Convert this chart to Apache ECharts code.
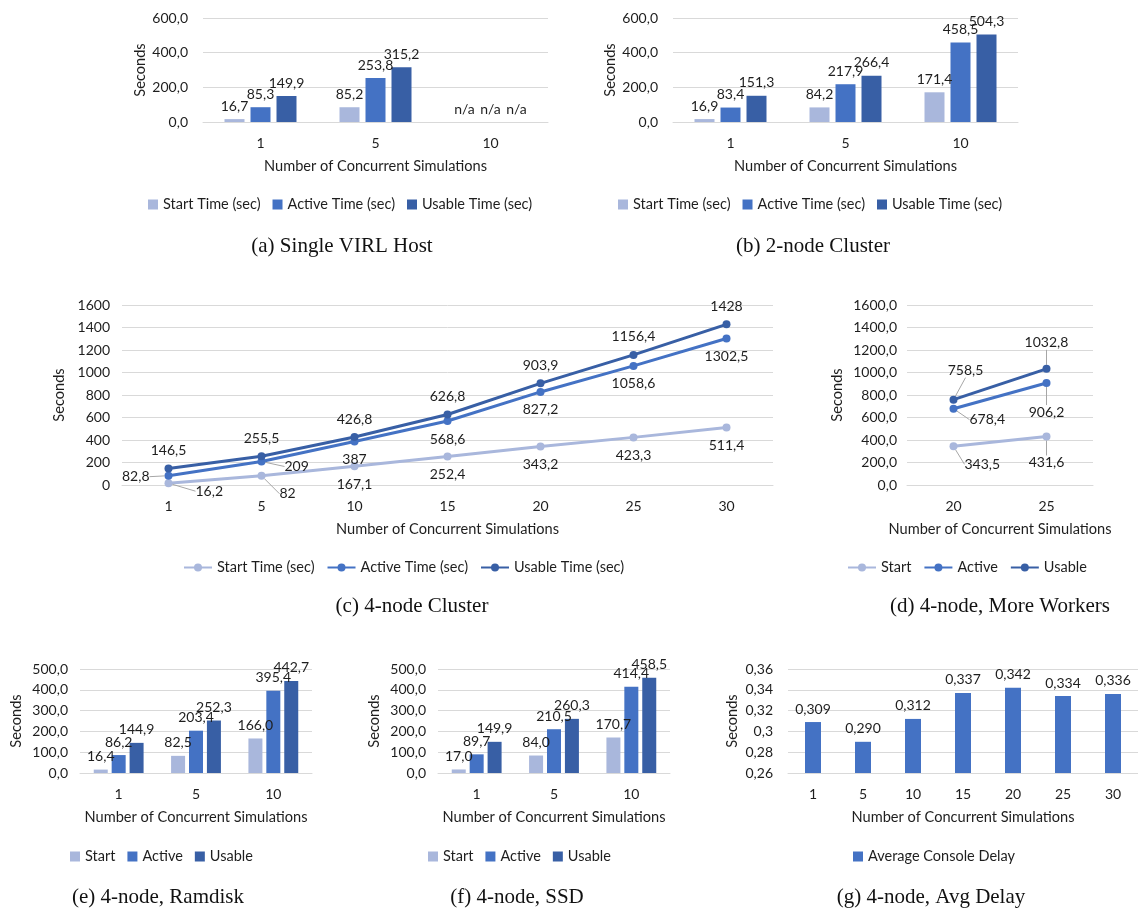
<!DOCTYPE html>
<html>
<head>
<meta charset="utf-8">
<script src="https://cdn.jsdelivr.net/npm/echarts@6/dist/echarts.min.js"></script>
<style>
  body { margin: 0; background: #fff; }
  .panel { position: absolute; left: 0; top: 0; width: 1138px; height: 912px; }
</style>
</head>
<body>
<div id="a" class="panel"></div>
<div id="b" class="panel"></div>
<div id="c" class="panel"></div>
<div id="d" class="panel"></div>
<div id="e" class="panel"></div>
<div id="f" class="panel"></div>
<div id="g" class="panel"></div>
<script>
var FONT = 'Lato, "Open Sans", sans-serif';
var SERIF = '"Liberation Serif", "DejaVu Serif", serif';
var TXT = '#1e1e1e';
var C_START = '#a9b7dc', C_ACTIVE = '#4472c4', C_USABLE = '#385fa5';

// categories
var barCats = ['1', '5', '10'];
var lineCats = ['1', '5', '10', '15', '20', '25', '30'];
var moreCats = ['20', '25'];
var delayCats = ['1', '5', '10', '15', '20', '25', '30'];

// (a) single VIRL host (null = n/a)
var aStart = [16.7, 85.2, null];
var aActive = [85.3, 253.8, null];
var aUsable = [149.9, 315.2, null];
// (b) 2-node cluster
var bStart = [16.9, 84.2, 171.4];
var bActive = [83.4, 217.9, 458.5];
var bUsable = [151.3, 266.4, 504.3];
// (c) 4-node cluster
var cStart = [16.2, 82, 167.1, 252.4, 343.2, 423.3, 511.4];
var cActive = [82.8, 209, 387, 568.6, 827.2, 1058.6, 1302.5];
var cUsable = [146.5, 255.5, 426.8, 626.8, 903.9, 1156.4, 1428];
// (d) more workers
var dStart = [343.5, 431.6];
var dActive = [678.4, 906.2];
var dUsable = [758.5, 1032.8];
// (e) ramdisk
var eStart = [16.4, 82.5, 166.0];
var eActive = [86.2, 203.4, 395.4];
var eUsable = [144.9, 252.3, 442.7];
// (f) ssd
var fStart = [17.0, 84.0, 170.7];
var fActive = [89.7, 210.5, 414.4];
var fUsable = [149.9, 260.3, 458.5];
// (g) avg console delay
var gDelay = [0.309, 0.290, 0.312, 0.337, 0.342, 0.334, 0.336];

function comma(v, d) {
  return (d == null ? String(v) : v.toFixed(d)).replace('.', ',');
}

function xAxisCfg(cats) {
  return {
    type: 'category', data: cats,
    name: 'Number of Concurrent Simulations', nameLocation: 'middle', nameGap: 37,
    nameTextStyle: { fontFamily: FONT, fontSize: 14.6, color: TXT },
    axisLabel: { fontFamily: FONT, fontSize: 14, color: TXT, margin: 14 },
    axisLine: { lineStyle: { color: '#d9d9d9' } },
    axisTick: { show: false }
  };
}

function yAxisCfg(min, max, step, fmt, gap, margin) {
  return {
    type: 'value', min: min, max: max, interval: step,
    name: 'Seconds', nameLocation: 'middle', nameGap: gap,
    nameTextStyle: { fontFamily: FONT, fontSize: 14.6, color: TXT },
    axisLabel: { formatter: fmt, fontFamily: FONT, fontSize: 14, color: TXT, margin: margin },
    axisLine: { show: false }, axisTick: { show: false },
    splitLine: { lineStyle: { color: '#d9d9d9' } }
  };
}

function barSeries(name, vals, color, w, gap, digits) {
  return {
    type: 'bar', name: name, barWidth: w, barGap: gap,
    itemStyle: { color: color },
    label: {
      show: true, position: 'top', distance: 6,
      fontFamily: FONT, fontSize: 14, color: TXT,
      formatter: function (p) { return comma(p.value, digits); }
    },
    data: vals.map(function (v) {
      return v === null ? { value: 0, label: { formatter: 'n/a' } } : v;
    })
  };
}

// place: [position, dx, dy, leader line]
function lineSeries(name, vals, color, fmt, place) {
  return {
    type: 'line', name: name, symbol: 'circle', symbolSize: 8,
    lineStyle: { color: color, width: 3 },
    itemStyle: { color: color },
    label: {
      show: true, distance: 7, fontFamily: FONT, fontSize: 14, color: TXT,
      formatter: function (p) { return fmt(p.value); }
    },
    labelLine: { show: false, lineStyle: { color: '#a6a6a6', width: 1 } },
    labelLayout: function (p) {
      var m = place[p.dataIndex];
      return (m[1] || m[2]) ? { dx: m[1] || 0, dy: m[2] || 0 } : {};
    },
    data: vals.map(function (v, i) {
      var m = place[i];
      return { value: v, label: { position: m[0] }, labelLine: { show: !!m[3] } };
    })
  };
}

function legendCfg(left, top, names, isLine) {
  return {
    left: left, top: top, padding: 0, itemGap: 12,
    itemWidth: isLine ? 28 : 10, itemHeight: 10,
    icon: isLine ? undefined : 'rect',
    textStyle: { fontFamily: FONT, fontSize: 14.5, color: TXT },
    data: names
  };
}

function caption(x, y, text) {
  return [{
    type: 'text', x: x, y: y,
    style: { text: text, fontFamily: SERIF, fontSize: 21, fill: '#111', align: 'center', verticalAlign: 'middle' }
  }];
}

function draw(id, opt) {
  var chart = echarts.init(document.getElementById(id));
  opt.animation = false;
  chart.setOption(opt);
}

var longNames = ['Start Time (sec)', 'Active Time (sec)', 'Usable Time (sec)'];
var shortNames = ['Start', 'Active', 'Usable'];
var fmt1 = function (v) { return comma(v, 1); };
var fmt0 = function (v) { return comma(v); };

// (a)
draw('a', {
  grid: { left: 203, top: 18, width: 345, height: 104 },
  xAxis: xAxisCfg(barCats),
  yAxis: yAxisCfg(0, 600, 200, fmt1, 55, 15),
  legend: legendCfg(148, 197, longNames, false),
  series: [
    barSeries(longNames[0], aStart, C_START, 20, '30%', 1),
    barSeries(longNames[1], aActive, C_ACTIVE, 20, '30%', 1),
    barSeries(longNames[2], aUsable, C_USABLE, 20, '30%', 1)
  ],
  graphic: caption(342, 246, '(a) Single VIRL Host')
});

// (b)
draw('b', {
  grid: { left: 673, top: 18, width: 345, height: 104 },
  xAxis: xAxisCfg(barCats),
  yAxis: yAxisCfg(0, 600, 200, fmt1, 55, 15),
  legend: legendCfg(618, 197, longNames, false),
  series: [
    barSeries(longNames[0], bStart, C_START, 20, '30%', 1),
    barSeries(longNames[1], bActive, C_ACTIVE, 20, '30%', 1),
    barSeries(longNames[2], bUsable, C_USABLE, 20, '30%', 1)
  ],
  graphic: caption(813, 246, '(b) 2-node Cluster')
});

// (c)
var B = ['bottom'], T = ['top'];
draw('c', {
  grid: { left: 122, top: 305, width: 651, height: 180 },
  xAxis: xAxisCfg(lineCats),
  yAxis: yAxisCfg(0, 1600, 200, fmt0, 44, 12),
  legend: legendCfg(183, 560, longNames, true),
  series: [
    lineSeries(longNames[0], cStart, C_START, fmt0,
      [['right', 16, 8, true], ['right', 7, 18, true], B, B, B, B, B]),
    lineSeries(longNames[1], cActive, C_ACTIVE, fmt0,
      [['left', -8, 1, true], ['right', 12, 5, true], B, B, B, B, B]),
    lineSeries(longNames[2], cUsable, C_USABLE, fmt0, [T, T, T, T, T, T, T])
  ],
  graphic: caption(412, 606, '(c) 4-node Cluster')
});

// (d)
draw('d', {
  grid: { left: 907, top: 305, width: 186, height: 180 },
  xAxis: xAxisCfg(moreCats),
  yAxis: yAxisCfg(0, 1600, 200, fmt1, 62, 10),
  legend: legendCfg(847, 560, shortNames, true),
  series: [
    lineSeries(shortNames[0], dStart, C_START, fmt1,
      [['right', 0, 18, true], ['bottom', 0, 8, true]]),
    lineSeries(shortNames[1], dActive, C_ACTIVE, fmt1,
      [['right', 5, 11, true], ['bottom', 0, 11, true]]),
    lineSeries(shortNames[2], dUsable, C_USABLE, fmt1,
      [['top', 12, -11, true], ['top', 0, -8, true]])
  ],
  graphic: caption(1000, 606, '(d) 4-node, More Workers')
});

// (e)
draw('e', {
  grid: { left: 80, top: 669, width: 232, height: 104 },
  xAxis: xAxisCfg(barCats),
  yAxis: yAxisCfg(0, 500, 100, fmt1, 56, 12),
  legend: legendCfg(70, 849, shortNames, false),
  series: [
    barSeries(shortNames[0], eStart, C_START, 14, '28%', 1),
    barSeries(shortNames[1], eActive, C_ACTIVE, 14, '28%', 1),
    barSeries(shortNames[2], eUsable, C_USABLE, 14, '28%', 1)
  ],
  graphic: caption(158, 897, '(e) 4-node, Ramdisk')
});

// (f)
draw('f', {
  grid: { left: 438, top: 669, width: 232, height: 104 },
  xAxis: xAxisCfg(barCats),
  yAxis: yAxisCfg(0, 500, 100, fmt1, 56, 12),
  legend: legendCfg(428, 849, shortNames, false),
  series: [
    barSeries(shortNames[0], fStart, C_START, 14, '28%', 1),
    barSeries(shortNames[1], fActive, C_ACTIVE, 14, '28%', 1),
    barSeries(shortNames[2], fUsable, C_USABLE, 14, '28%', 1)
  ],
  graphic: caption(517, 897, '(f) 4-node, SSD')
});

// (g)
draw('g', {
  grid: { left: 788, top: 669, width: 350, height: 104 },
  xAxis: xAxisCfg(delayCats),
  yAxis: yAxisCfg(0.26, 0.36, 0.02, function (v) { return comma(parseFloat(v.toFixed(2))); }, 48, 15),
  legend: legendCfg(853, 849, ['Average Console Delay'], false),
  series: [
    barSeries('Average Console Delay', gDelay, C_ACTIVE, 16, '30%', 3)
  ],
  graphic: caption(931, 897, '(g) 4-node, Avg Delay')
});
</script>
</body>
</html>
